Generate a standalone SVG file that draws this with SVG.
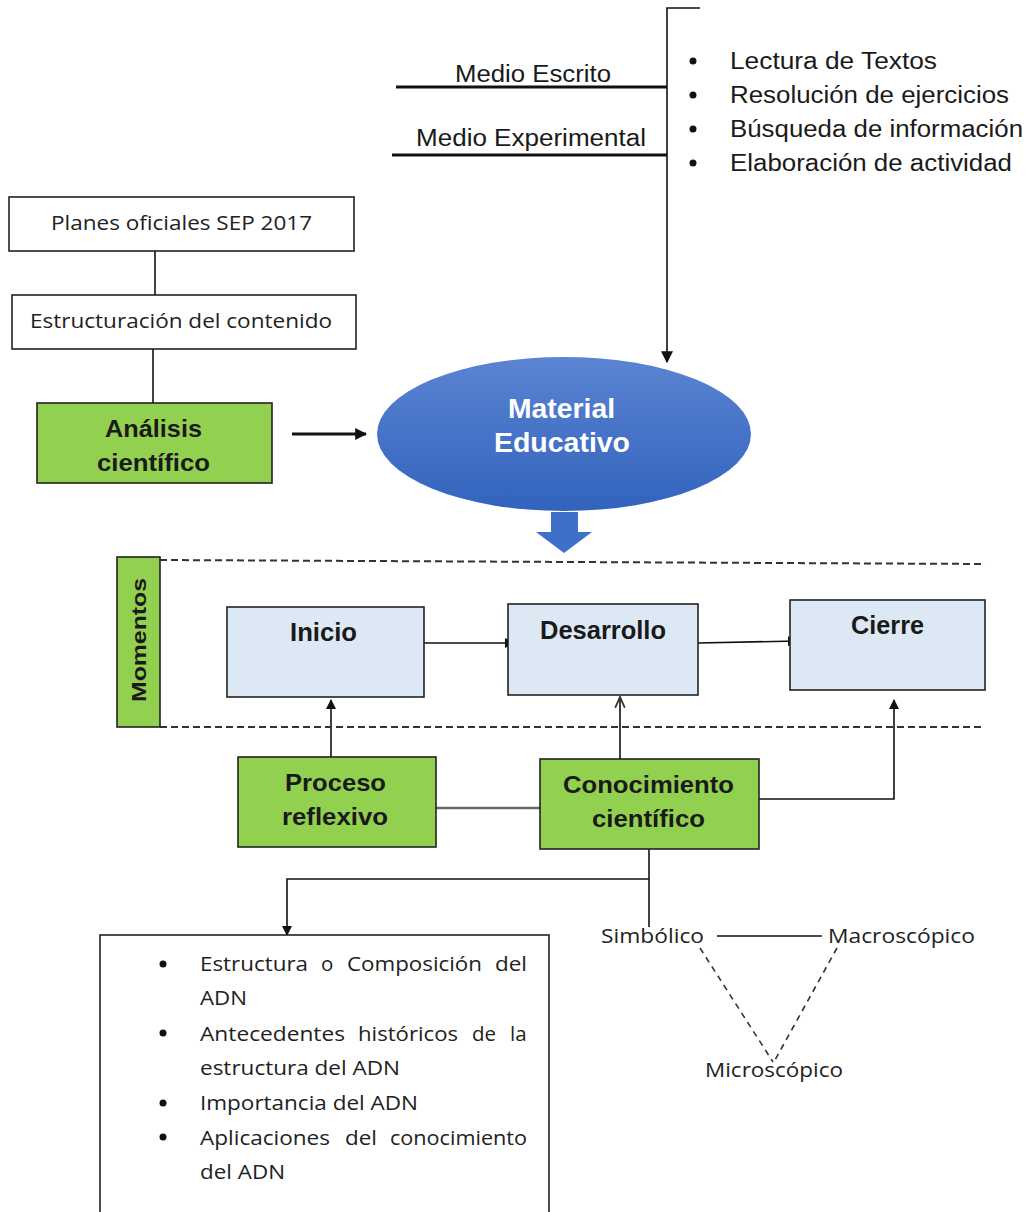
<svg xmlns="http://www.w3.org/2000/svg" width="1029" height="1212" viewBox="0 0 1029 1212">
  <defs>
    <style>
      .box { fill: #ffffff; stroke: #222; stroke-width: 1.6; }
      .green { fill: #92D050; stroke: #222; stroke-width: 1.6; }
      .blue { fill: #DDE8F5; stroke: #222; stroke-width: 1.6; }
      .ln { fill: none; stroke: #111; stroke-width: 1.6; }
      .thick { fill: none; stroke: #111; stroke-width: 3; }
      .gray { fill: none; stroke: #666; stroke-width: 2.5; }
      .dash { fill: none; stroke: #333; stroke-width: 2; stroke-dasharray: 7 4; }
      .dash2 { fill: none; stroke: #333; stroke-width: 1.6; stroke-dasharray: 6 5; }
      .arial { font-family: "Liberation Sans", Arial, sans-serif; fill: #1a1a1a; }
      .cal { font-family: "Open Sans", "Noto Sans", sans-serif; fill: #222; }
      .bold { font-weight: bold; }
    </style>
    <marker id="tri" viewBox="0 0 10 10" refX="9" refY="5" markerWidth="10" markerHeight="10" markerUnits="userSpaceOnUse" orient="auto">
      <path d="M0,0 L10,5 L0,10 z" fill="#111"/>
    </marker>
    <marker id="tribig" viewBox="0 0 10 10" refX="9" refY="5" markerWidth="12" markerHeight="12" markerUnits="userSpaceOnUse" orient="auto">
      <path d="M0,0 L10,5 L0,10 z" fill="#111"/>
    </marker>
    <marker id="open" viewBox="0 0 10 10" refX="9" refY="5" markerWidth="12" markerHeight="12" markerUnits="userSpaceOnUse" orient="auto">
      <path d="M0,1 L9,5 L0,9" fill="none" stroke="#333" stroke-width="1.5"/>
    </marker>
    <linearGradient id="ellg" x1="0" y1="0" x2="0" y2="1">
      <stop offset="0" stop-color="#5b84d2"/>
      <stop offset="1" stop-color="#3263bd"/>
    </linearGradient>
  </defs>

  <!-- connectors -->
  <g id="connectors">
    <!-- media bracket feeding the educational material -->
    <path class="ln" d="M700,8 H667 V362" marker-end="url(#tribig)"/>
    <line class="thick" x1="396" y1="87" x2="667" y2="87"/>
    <line class="thick" x1="392" y1="155" x2="667" y2="155"/>
    <!-- left column -->
    <line class="ln" x1="155" y1="251" x2="155" y2="295"/>
    <line class="ln" x1="153" y1="349" x2="153" y2="403"/>
    <line class="thick" x1="292" y1="434" x2="366" y2="434" marker-end="url(#tribig)"/>
    <!-- moments sequence -->
    <line class="ln" x1="424" y1="643" x2="514" y2="643" marker-end="url(#tri)"/>
    <line class="ln" x1="698" y1="643" x2="797" y2="641" marker-end="url(#tri)"/>
    <line class="ln" x1="331" y1="757" x2="331" y2="700" marker-end="url(#tri)"/>
    <line class="ln" x1="620" y1="759" x2="620" y2="697" marker-end="url(#open)"/>
    <path class="ln" d="M759,799 H894 V700" marker-end="url(#tri)"/>
    <line class="gray" x1="436" y1="808" x2="540" y2="808"/>
    <!-- knowledge branches -->
    <line class="ln" x1="649" y1="849" x2="649" y2="927"/>
    <path class="ln" d="M649,879 H287 V935" marker-end="url(#tri)"/>
    <line class="ln" x1="717" y1="936" x2="822" y2="936"/>
    <line class="dash2" x1="700" y1="948" x2="773" y2="1062"/>
    <line class="dash2" x1="837" y1="948" x2="775" y2="1060"/>
    <!-- moments band -->
    <line class="dash" x1="160" y1="560" x2="985" y2="564"/>
    <line class="dash" x1="160" y1="727" x2="985" y2="727"/>
  </g>

  <!-- media labels and activity list -->
  <g id="medios">
    <text class="arial" x="455" y="82" font-size="23" textLength="156" lengthAdjust="spacingAndGlyphs">Medio Escrito</text>
    <text class="arial" x="416" y="146" font-size="23" textLength="230" lengthAdjust="spacingAndGlyphs">Medio Experimental</text>
    <g class="arial" font-size="23">
      <circle cx="693" cy="61" r="3.5" fill="#111"/>
      <circle cx="693" cy="95" r="3.5" fill="#111"/>
      <circle cx="693" cy="129" r="3.5" fill="#111"/>
      <circle cx="693" cy="163" r="3.5" fill="#111"/>
      <text x="730" y="69" textLength="207" lengthAdjust="spacingAndGlyphs">Lectura de Textos</text>
      <text x="730" y="103" textLength="279" lengthAdjust="spacingAndGlyphs">Resolución de ejercicios</text>
      <text x="730" y="137" textLength="293" lengthAdjust="spacingAndGlyphs">Búsqueda de información</text>
      <text x="730" y="171" textLength="282" lengthAdjust="spacingAndGlyphs">Elaboración de actividad</text>
    </g>
  </g>

  <g id="planes">
    <rect class="box" x="9" y="197" width="345" height="54"/>
    <text class="cal" x="51" y="230" font-size="20.5" textLength="261" lengthAdjust="spacingAndGlyphs">Planes oficiales SEP 2017</text>
  </g>
  <g id="estructuracion">
    <rect class="box" x="12" y="295" width="344" height="54"/>
    <text class="cal" x="30" y="328" font-size="20.5" textLength="302" lengthAdjust="spacingAndGlyphs">Estructuración del contenido</text>
  </g>
  <g id="analisis">
    <rect class="green" x="37" y="403" width="235" height="80"/>
    <text class="arial bold" x="105" y="437" font-size="24" textLength="97" lengthAdjust="spacingAndGlyphs">Análisis</text>
    <text class="arial bold" x="97" y="471" font-size="24" textLength="113" lengthAdjust="spacingAndGlyphs">científico</text>
  </g>

  <g id="material">
    <ellipse cx="564" cy="434" rx="187" ry="77" fill="url(#ellg)"/>
    <text class="bold" x="508" y="418" font-size="28" textLength="107" lengthAdjust="spacingAndGlyphs" font-family="Liberation Sans, Arial, sans-serif" fill="#fff">Material</text>
    <text class="bold" x="494" y="452" font-size="28" textLength="136" lengthAdjust="spacingAndGlyphs" font-family="Liberation Sans, Arial, sans-serif" fill="#fff">Educativo</text>
    <path d="M551,512 H578 V532 H592 L564,553 L536,532 H551 Z" fill="#3f6fc8"/>
  </g>

  <g id="momentos">
    <rect class="green" x="117" y="557" width="43" height="170"/>
    <text class="arial bold" x="-62" y="0" font-size="21" textLength="124" lengthAdjust="spacingAndGlyphs" transform="translate(146,640) rotate(-90)">Momentos</text>
  </g>
  <g id="inicio">
    <rect class="blue" x="227" y="607" width="197" height="90"/>
    <text class="arial bold" x="290" y="641" font-size="25" textLength="67" lengthAdjust="spacingAndGlyphs">Inicio</text>
  </g>
  <g id="desarrollo">
    <rect class="blue" x="508" y="604" width="190" height="91"/>
    <text class="arial bold" x="540" y="639" font-size="25" textLength="126" lengthAdjust="spacingAndGlyphs">Desarrollo</text>
  </g>
  <g id="cierre">
    <rect class="blue" x="790" y="600" width="195" height="90"/>
    <text class="arial bold" x="851" y="634" font-size="25" textLength="73" lengthAdjust="spacingAndGlyphs">Cierre</text>
  </g>

  <g id="proceso">
    <rect class="green" x="238" y="757" width="198" height="90"/>
    <text class="arial bold" x="285" y="791" font-size="24" textLength="101" lengthAdjust="spacingAndGlyphs">Proceso</text>
    <text class="arial bold" x="282" y="825" font-size="24" textLength="106" lengthAdjust="spacingAndGlyphs">reflexivo</text>
  </g>
  <g id="conocimiento">
    <rect class="green" x="540" y="759" width="219" height="90"/>
    <text class="arial bold" x="563" y="793" font-size="24" textLength="171" lengthAdjust="spacingAndGlyphs">Conocimiento</text>
    <text class="arial bold" x="592" y="827" font-size="24" textLength="113" lengthAdjust="spacingAndGlyphs">científico</text>
  </g>

  <g id="temas">
    <rect class="box" x="100" y="935" width="449" height="290"/>
    <g class="cal" font-size="20.5">
      <circle cx="163" cy="964" r="3.5" fill="#111"/>
      <circle cx="163" cy="1033" r="3.5" fill="#111"/>
      <circle cx="163" cy="1103" r="3.5" fill="#111"/>
      <circle cx="163" cy="1137" r="3.5" fill="#111"/>
      <!-- justified lines: words placed one by one -->
      <text y="971"><tspan x="200" textLength="108" lengthAdjust="spacingAndGlyphs">Estructura</tspan> <tspan x="321">o</tspan> <tspan x="347" textLength="135" lengthAdjust="spacingAndGlyphs">Composición</tspan> <tspan x="495" textLength="32" lengthAdjust="spacingAndGlyphs">del</tspan></text>
      <text x="200" y="1005" textLength="47" lengthAdjust="spacingAndGlyphs">ADN</text>
      <text y="1041"><tspan x="200" textLength="145" lengthAdjust="spacingAndGlyphs">Antecedentes</tspan> <tspan x="358" textLength="100" lengthAdjust="spacingAndGlyphs">históricos</tspan> <tspan x="472">de</tspan> <tspan x="510">la</tspan></text>
      <text x="200" y="1075" textLength="200" lengthAdjust="spacingAndGlyphs">estructura del ADN</text>
      <text x="200" y="1110" textLength="218" lengthAdjust="spacingAndGlyphs">Importancia del ADN</text>
      <text y="1145"><tspan x="200" textLength="130" lengthAdjust="spacingAndGlyphs">Aplicaciones</tspan> <tspan x="345" textLength="32" lengthAdjust="spacingAndGlyphs">del</tspan> <tspan x="390" textLength="137" lengthAdjust="spacingAndGlyphs">conocimiento</tspan></text>
      <text x="200" y="1179" textLength="85" lengthAdjust="spacingAndGlyphs">del ADN</text>
    </g>
  </g>

  <g id="simbolico"><text class="cal" x="601" y="943" font-size="20.5" textLength="103" lengthAdjust="spacingAndGlyphs">Simbólico</text></g>
  <g id="macroscopico"><text class="cal" x="828" y="943" font-size="20.5" textLength="147" lengthAdjust="spacingAndGlyphs">Macroscópico</text></g>
  <g id="microscopico"><text class="cal" x="705" y="1077" font-size="20.5" textLength="138" lengthAdjust="spacingAndGlyphs">Microscópico</text></g>
</svg>
